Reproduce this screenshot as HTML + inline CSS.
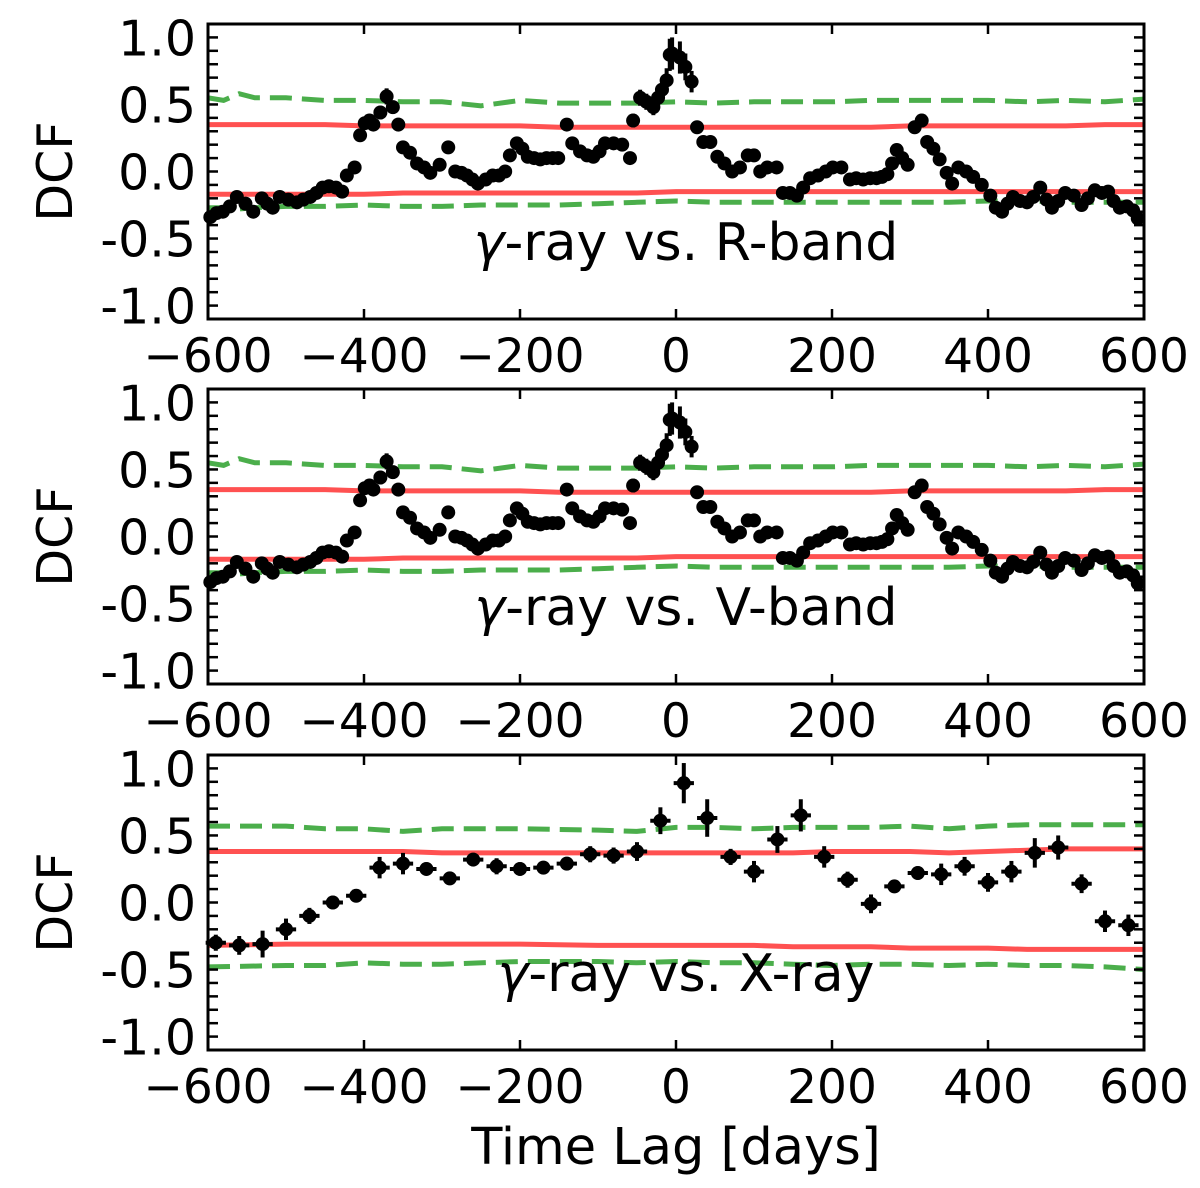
<!DOCTYPE html>
<html><head><meta charset="utf-8">
<style>
html,body{margin:0;padding:0;background:#fff;}
svg{display:block;font-family:"DejaVu Sans","Liberation Sans",sans-serif;}
</style></head>
<body>
<svg id="chart" width="1200" height="1188" viewBox="0 0 1200 1188" xmlns="http://www.w3.org/2000/svg">
<text x="676" y="1164" font-size="51" text-anchor="middle">Time Lag [days]</text>
</svg>
<script>
// ---- Optical (R / V band) DCF data ----
const optLag = [-597,-589,-581,-572,-563,-552,-542,-531,-524,-517,-508,-497,-486,-478,-469,-461,-453,-445,-436,-428,-422,-412,-405,-399,-393,-388,-379,-371,-363,-356,-350,-341,-332,-323,-315,-303,-292,-283,-275,-268,-261,-254,-244,-235,-227,-219,-213,-204,-197,-190,-182,-174,-166,-158,-151,-140,-133,-123,-114,-106,-98,-91,-80,-69,-59,-55,-46,-38,-29,-23,-18,-12,-8,-5,5,12,20,27,35,44,53,62,72,82,92,100,108,117,129,137,146,155,163,172,182,192,201,212,223,231,240,249,257,264,271,277,283,290,297,306,315,322,330,338,347,354,362,372,381,392,403,410,418,425,432,441,450,458,467,475,482,490,499,510,520,528,537,546,554,561,569,578,586,592,598];
const optDcf = [-0.34,-0.31,-0.30,-0.26,-0.19,-0.24,-0.30,-0.20,-0.24,-0.27,-0.19,-0.21,-0.23,-0.21,-0.19,-0.16,-0.12,-0.11,-0.12,-0.15,-0.03,0.03,0.27,0.36,0.38,0.35,0.44,0.56,0.48,0.35,0.18,0.14,0.06,0.03,-0.01,0.05,0.18,0.00,-0.01,-0.03,-0.06,-0.09,-0.06,-0.03,-0.03,0.00,0.12,0.21,0.17,0.11,0.10,0.09,0.10,0.10,0.10,0.35,0.21,0.15,0.12,0.11,0.15,0.21,0.21,0.20,0.10,0.38,0.55,0.52,0.48,0.55,0.61,0.68,0.87,0.88,0.85,0.78,0.67,0.33,0.22,0.22,0.11,0.06,0.00,0.03,0.12,0.12,0.00,0.03,0.03,-0.16,-0.16,-0.18,-0.12,-0.05,-0.03,0.00,0.03,0.03,-0.06,-0.05,-0.06,-0.05,-0.05,-0.04,-0.02,0.06,0.16,0.10,0.05,0.33,0.38,0.22,0.17,0.09,-0.01,-0.09,0.03,0.00,-0.04,-0.10,-0.18,-0.27,-0.30,-0.24,-0.19,-0.22,-0.23,-0.19,-0.12,-0.21,-0.27,-0.22,-0.16,-0.18,-0.25,-0.20,-0.14,-0.16,-0.15,-0.22,-0.27,-0.26,-0.29,-0.35];
const optErr = [0.03,0.03,0.03,0.03,0.03,0.03,0.03,0.03,0.03,0.03,0.03,0.03,0.03,0.03,0.03,0.03,0.03,0.03,0.03,0.03,0.03,0.03,0.04,0.04,0.04,0.04,0.05,0.06,0.05,0.05,0.03,0.03,0.03,0.03,0.03,0.03,0.03,0.03,0.03,0.03,0.03,0.03,0.03,0.03,0.03,0.03,0.03,0.03,0.03,0.03,0.03,0.03,0.03,0.03,0.03,0.03,0.03,0.03,0.03,0.03,0.03,0.03,0.03,0.03,0.03,0.05,0.06,0.06,0.06,0.07,0.08,0.09,0.12,0.12,0.12,0.1,0.08,0.03,0.03,0.03,0.03,0.03,0.03,0.03,0.03,0.03,0.03,0.03,0.03,0.03,0.03,0.03,0.03,0.03,0.03,0.03,0.03,0.03,0.03,0.03,0.03,0.03,0.03,0.03,0.03,0.03,0.03,0.03,0.03,0.05,0.05,0.03,0.03,0.03,0.03,0.03,0.03,0.03,0.03,0.03,0.03,0.03,0.03,0.03,0.03,0.03,0.03,0.03,0.03,0.03,0.03,0.03,0.03,0.03,0.03,0.03,0.03,0.03,0.03,0.03,0.03,0.03,0.03,0.03];
// significance lines (optical)
const optSigLag = [-600,-580,-560,-540,-500,-450,-400,-350,-300,-250,-200,-150,-100,-50,0,50,100,150,200,250,300,350,400,450,500,550,600];
const optUp99 = [0.55,0.53,0.58,0.55,0.55,0.53,0.53,0.52,0.52,0.49,0.53,0.51,0.51,0.51,0.52,0.51,0.52,0.52,0.52,0.53,0.53,0.53,0.53,0.52,0.53,0.52,0.54];
const optUp95 = [0.35,0.35,0.35,0.35,0.35,0.35,0.34,0.34,0.34,0.34,0.34,0.33,0.33,0.33,0.33,0.33,0.33,0.33,0.33,0.33,0.34,0.34,0.34,0.34,0.34,0.35,0.35];
const optLo95 = [-0.17,-0.17,-0.17,-0.17,-0.17,-0.17,-0.17,-0.16,-0.16,-0.16,-0.16,-0.16,-0.16,-0.16,-0.15,-0.15,-0.15,-0.15,-0.15,-0.15,-0.15,-0.15,-0.15,-0.15,-0.15,-0.15,-0.15];
const optLo99 = [-0.27,-0.27,-0.28,-0.27,-0.26,-0.26,-0.25,-0.26,-0.26,-0.25,-0.25,-0.25,-0.24,-0.23,-0.22,-0.23,-0.23,-0.23,-0.23,-0.23,-0.23,-0.23,-0.22,-0.22,-0.23,-0.23,-0.23];

// ---- X-ray DCF data ----
const xLag = [-590,-560,-530,-500,-470,-440,-410,-380,-350,-320,-290,-260,-230,-200,-170,-140,-110,-80,-50,-20,10,40,70,100,130,160,190,220,250,280,310,340,370,400,430,460,490,520,550,580];
const xDcf = [-0.30,-0.32,-0.31,-0.20,-0.10,0.00,0.05,0.26,0.29,0.25,0.18,0.32,0.27,0.25,0.26,0.29,0.36,0.35,0.38,0.61,0.89,0.63,0.34,0.23,0.47,0.65,0.34,0.17,-0.01,0.12,0.22,0.21,0.27,0.15,0.23,0.37,0.41,0.14,-0.14,-0.17];
const xErr = [0.06,0.07,0.10,0.08,0.06,0.05,0.05,0.08,0.08,0.05,0.05,0.05,0.06,0.05,0.05,0.05,0.06,0.06,0.07,0.10,0.15,0.14,0.06,0.08,0.10,0.12,0.08,0.06,0.07,0.04,0.05,0.08,0.07,0.07,0.08,0.11,0.09,0.07,0.08,0.08];
const xSigLag = [-600,-500,-450,-400,-350,-300,-200,-100,-50,0,50,100,150,200,250,300,350,400,450,500,550,600];
const xUp99 = [0.57,0.57,0.55,0.55,0.53,0.55,0.55,0.54,0.53,0.56,0.56,0.55,0.56,0.56,0.56,0.57,0.55,0.57,0.58,0.58,0.58,0.58];
const xUp95 = [0.38,0.38,0.38,0.38,0.38,0.37,0.37,0.37,0.37,0.37,0.37,0.37,0.37,0.38,0.38,0.38,0.37,0.38,0.39,0.40,0.40,0.40];
const xLo95 = [-0.32,-0.31,-0.31,-0.31,-0.31,-0.31,-0.31,-0.32,-0.32,-0.32,-0.32,-0.32,-0.33,-0.33,-0.33,-0.34,-0.34,-0.34,-0.35,-0.35,-0.35,-0.35];
const xLo99 = [-0.48,-0.47,-0.47,-0.45,-0.46,-0.46,-0.44,-0.44,-0.45,-0.44,-0.45,-0.45,-0.46,-0.47,-0.46,-0.46,-0.47,-0.46,-0.47,-0.47,-0.48,-0.50];

const xTicks = [-600,-400,-200,0,200,400,600];
const xTickLabels = ["\u2212600","\u2212400","\u2212200","0","200","400","600"];
const yTicks = [1.0,0.5,0.0,-0.5,-1.0];
const yTickLabels = ["1.0","0.5","0.0","-0.5","-1.0"];

const NS = "http://www.w3.org/2000/svg";
const svg = document.getElementById('chart');
const L = 208, R = 1144, H = 295;
function xs(v){ return L + (v + 600) / 1200 * (R - L); }
function mk(tag, attrs, parent){
  const e = document.createElementNS(NS, tag);
  for (const k in attrs) e.setAttribute(k, attrs[k]);
  parent.appendChild(e);
  return e;
}
function drawPanel(top, name, label, lag, dcf, err, xerr, sigLag, up99, up95, lo95, lo99, dotR){
  const ys = v => top + (1.1 - v) / 2.2 * H;
  const g = mk('g', {}, svg);
  
  
  function line(arr, color, dash, nm){
    const p = mk('path', {d: arr.map((v,i)=>(i?'L':'M')+xs(sigLag[i]).toFixed(1)+' '+ys(v).toFixed(1)).join(' '),
      fill:'none', stroke: color, 'stroke-width': 5, 'stroke-opacity':0.85, 'stroke-dasharray': dash}, g);
    
    
  }
  line(up99, '#2ca02c', '22 10', 'upper-99-line');
  line(lo99, '#2ca02c', '22 10', 'lower-99-line');
  line(up95, '#ff3333', 'none', 'upper-95-line');
  line(lo95, '#ff3333', 'none', 'lower-95-line');
  const n = Math.min(lag.length, dcf.length);
  for (let i = 0; i < n; i++){
    const e = (err[i] === undefined) ? 0.03 : err[i];
    const cx = xs(lag[i]), cy = ys(dcf[i]);
    const pg = mk('g', {}, g);
    
    
    mk('line', {x1:cx, x2:cx, y1:ys(dcf[i]+e), y2:ys(dcf[i]-e), stroke:'#000', 'stroke-width':4}, pg);
    if (xerr) mk('line', {x1:xs(lag[i]-xerr), x2:xs(lag[i]+xerr), y1:cy, y2:cy, stroke:'#000', 'stroke-width':4}, pg);
    mk('circle', {cx:cx, cy:cy, r:dotR, fill:'#000'}, pg);
  }
  const fr = mk('rect', {x:L, y:top, width:R-L, height:H, fill:'none', stroke:'#000', 'stroke-width':3}, g);
  
  
  xTicks.forEach((t, i) => {
    const x = xs(t);
    mk('line', {x1:x, x2:x, y1:top, y2:top+10, stroke:'#000', 'stroke-width':2.5}, g);
    mk('line', {x1:x, x2:x, y1:top+H, y2:top+H-10, stroke:'#000', 'stroke-width':2.5}, g);
    const tx = mk('text', {x:x, y:top+H+53, 'font-size':47, 'text-anchor':'middle'}, g);
    tx.textContent = xTickLabels[i];
    
    
  });
  for (let k = -10; k <= 10; k++){
    const y = ys(k/10);
    mk('line', {x1:L, x2:L+10, y1:y, y2:y, stroke:'#000', 'stroke-width':2.5}, g);
    mk('line', {x1:R, x2:R-10, y1:y, y2:y, stroke:'#000', 'stroke-width':2.5}, g);
  }
  yTicks.forEach((t, i) => {
    const ty = mk('text', {x:196, y:ys(t)+18, 'font-size':49, 'text-anchor':'end'}, g);
    ty.textContent = yTickLabels[i];
    
    
  });
  const yl = mk('text', {x:0, y:0, 'font-size':49, 'text-anchor':'middle', transform:'translate(72 '+(top+H/2)+') rotate(-90)'}, g);
  yl.textContent = 'DCF';
  
  
  const lb = mk('text', {x:686, y:top+236, 'font-size':52, 'text-anchor':'middle'}, g);
  lb.innerHTML = '<tspan font-style="italic">\u03b3</tspan>-ray vs. ' + label;
  
  
}
drawPanel(24, 'panel-r-band', 'R-band', optLag, optDcf, optErr, 0, optSigLag, optUp99, optUp95, optLo95, optLo99, 7);
drawPanel(389, 'panel-v-band', 'V-band', optLag, optDcf, optErr, 0, optSigLag, optUp99, optUp95, optLo95, optLo99, 7);
drawPanel(755, 'panel-x-ray', 'X-ray', xLag, xDcf, xErr, 13, xSigLag, xUp99, xUp95, xLo95, xLo99, 7);
</script>
</body></html>
